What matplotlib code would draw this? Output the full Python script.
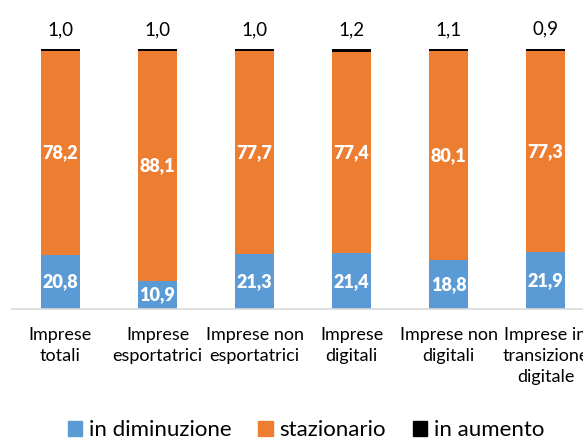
import matplotlib.pyplot as plt
import numpy as np
from matplotlib.patches import Patch

plt.rcParams['font.family'] = ['Lato', 'DejaVu Sans']

categorie = ['Imprese\ntotali', 'Imprese\nesportatrici', 'Imprese non\nesportatrici',
             'Imprese\ndigitali', 'Imprese non\ndigitali', 'Imprese in\ntransizione\ndigitale']
diminuzione = [20.8, 10.9, 21.3, 21.4, 18.8, 21.9]
stazionario = [78.2, 88.1, 77.7, 77.4, 80.1, 77.3]
aumento = [1.0, 1.0, 1.0, 1.2, 1.1, 0.9]

blu = '#5B9BD5'
arancio = '#ED7D31'
nero = '#000000'

def fmt(v):
    return ('%.1f' % v).replace('.', ',')

fig = plt.figure(figsize=(5.83, 4.41), dpi=100)
# the plot area runs past the right edge, as in the original
ax = fig.add_axes([12/583, 1-309/441, 582/583, (309-48.5)/441])

x = np.arange(len(categorie))
w = 0.40
d = np.array(diminuzione)
s = np.array(stazionario)
a = np.array(aumento)

ax.bar(x, d, w, color=blu)
ax.bar(x, s, w, bottom=d, color=arancio)
ax.bar(x, a, w, bottom=d+s, color=nero)

for i in range(len(x)):
    ax.text(x[i], d[i]/2, fmt(d[i]), ha='center', va='center', color='white',
            fontsize=13, fontweight='heavy')
    ax.text(x[i], d[i] + s[i]/2, fmt(s[i]), ha='center', va='center', color='white',
            fontsize=13, fontweight='heavy')
    ax.text(x[i], d[i]+s[i]+a[i] + 4.0, fmt(a[i]), ha='center', va='bottom',
            color='black', fontsize=13.5)

ax.set_xlim(-0.5, 5.5)
ax.set_ylim(0, 100)
ax.set_xticks(x)
ax.set_xticklabels(categorie, fontsize=13, linespacing=1.4)
ax.tick_params(axis='x', length=0, pad=13)
ax.set_yticks([])
for sp in ['top', 'right', 'left']:
    ax.spines[sp].set_visible(False)
ax.spines['bottom'].set_color('#D9D9D9')
ax.spines['bottom'].set_linewidth(1.2)

handles = [Patch(color=blu), Patch(color=arancio), Patch(color=nero)]
fig.legend(handles, ['in diminuzione', 'stazionario', 'in aumento'],
           loc='center', bbox_to_anchor=(306/583, 1-430/441), ncol=3,
           frameon=False, fontsize=16, handlelength=0.65, handleheight=0.65,
           handletextpad=0.3, columnspacing=1.2)

fig.savefig('out.png', dpi=100)
